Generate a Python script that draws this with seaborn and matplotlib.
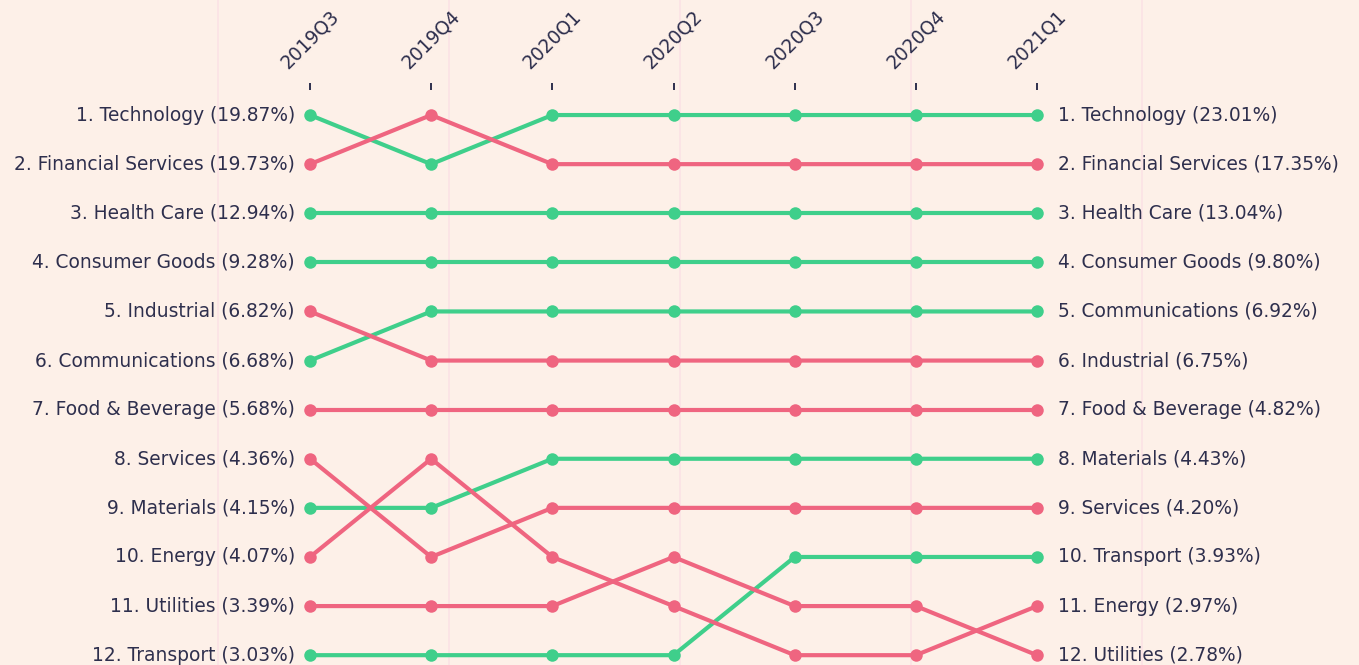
import numpy as np
import pandas as pd
import matplotlib
matplotlib.use("Agg")
import matplotlib.pyplot as plt
from matplotlib.lines import Line2D
import seaborn as sns

# Quarters (x axis)
quarters = ["2019Q3", "2019Q4", "2020Q1", "2020Q2", "2020Q3", "2020Q4", "2021Q1"]

# Sector ranks per quarter
sectors = ["Technology", "Financial Services", "Health Care", "Consumer Goods",
           "Industrial", "Communications", "Food & Beverage", "Services",
           "Materials", "Energy", "Utilities", "Transport"]
ranks = {
    "Technology":         [1, 2, 1, 1, 1, 1, 1],
    "Financial Services": [2, 1, 2, 2, 2, 2, 2],
    "Health Care":        [3, 3, 3, 3, 3, 3, 3],
    "Consumer Goods":     [4, 4, 4, 4, 4, 4, 4],
    "Industrial":         [5, 6, 6, 6, 6, 6, 6],
    "Communications":     [6, 5, 5, 5, 5, 5, 5],
    "Food & Beverage":    [7, 7, 7, 7, 7, 7, 7],
    "Services":           [8, 10, 9, 9, 9, 9, 9],
    "Materials":          [9, 9, 8, 8, 8, 8, 8],
    "Energy":             [10, 8, 10, 11, 12, 12, 11],
    "Utilities":          [11, 11, 11, 10, 11, 11, 12],
    "Transport":          [12, 12, 12, 12, 10, 10, 10],
}
# Weights at first and last quarter (%)
start_weight = [19.87, 19.73, 12.94, 9.28, 6.82, 6.68, 5.68, 4.36, 4.15, 4.07, 3.39, 3.03]
end_weight = [23.01, 17.35, 13.04, 9.80, 6.75, 6.92, 4.82, 4.20, 4.43, 2.97, 2.78, 3.93]

bg = "#fdf0e8"
green = "#3fcf8b"
red = "#ef6580"
text_color = "#2e2f4d"

rows = []
for s in sectors:
    for i, q in enumerate(quarters):
        rows.append({"sector": s, "x": i, "rank": ranks[s][i]})
df = pd.DataFrame(rows)

palette = {s: (green if e > b else red)
           for s, b, e in zip(sectors, start_weight, end_weight)}
# draw risers first so fallers sit on top
hue_order = sorted(sectors, key=lambda s: palette[s] == red)

sns.set_style("white")
plt.rcParams["font.family"] = ["DejaVu Sans"]

W, H = 1359, 665
fig = plt.figure(figsize=(W / 100, H / 100), dpi=100)
fig.patch.set_facecolor(bg)

# faint vertical background guides
for px in [218, 449, 680, 911, 1142]:
    fig.add_artist(Line2D([px / W, px / W], [0, 1], color="#fbe2e5", lw=1.2,
                          zorder=-1, transform=fig.transFigure))

ax = fig.add_axes([310 / W, 0, 727 / W, 575 / H])
ax.set_facecolor("none")

sns.lineplot(data=df, x="x", y="rank", hue="sector", hue_order=hue_order,
             palette=palette, marker="o", markersize=9, markeredgewidth=0,
             linewidth=3, legend=False, ax=ax, zorder=3)
for ln in ax.lines:
    ln.set_clip_on(False)

ax.set_xlim(0, 6)
ax.set_ylim(12.2, 0.49)

ax.xaxis.tick_top()
ax.set_xticks(range(len(quarters)))
ax.set_xticklabels(quarters, rotation=45, ha="center", va="bottom",
                   fontsize=13.4, color=text_color)
ax.tick_params(axis="x", length=5, width=1.4, color=text_color, pad=8)
ax.set_yticks([])
ax.set_xlabel("")
ax.set_ylabel("")
for sp in ax.spines.values():
    sp.set_visible(False)

# left labels (start ranks) and right labels (end ranks)
start_order = sorted(sectors, key=lambda s: ranks[s][0])
for s in start_order:
    r = ranks[s][0]
    w = start_weight[sectors.index(s)]
    ax.annotate(f"{r}. {s} ({w:.2f}%)", xy=(0, r), xytext=(-15, 0),
                textcoords="offset pixels", ha="right", va="center",
                fontsize=13.4, color=text_color, annotation_clip=False)
for s in sectors:
    r = ranks[s][-1]
    w = end_weight[sectors.index(s)]
    ax.annotate(f"{r}. {s} ({w:.2f}%)", xy=(6, r), xytext=(21, 0),
                textcoords="offset pixels", ha="left", va="center",
                fontsize=13.4, color=text_color, annotation_clip=False)

fig.savefig("out.png", dpi=100, facecolor=bg)
